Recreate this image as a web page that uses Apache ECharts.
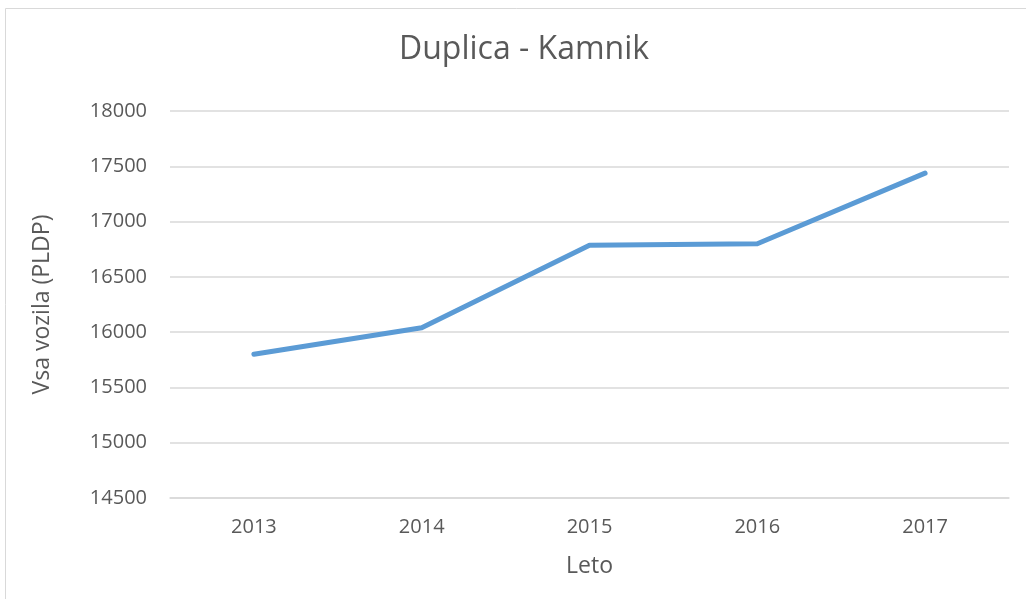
<!DOCTYPE html>
<html>
<head>
<meta charset="utf-8">
<script src="https://cdn.jsdelivr.net/npm/echarts@6/dist/echarts.min.js"></script>
<style>
  html, body { margin: 0; padding: 0; background: #fff; }
  #chart { width: 1026px; height: 599px; }
</style>
</head>
<body>
<div id="chart"></div>
<script>
// podatki grafa
var years = ['2013', '2014', '2015', '2016', '2017'];
var vehicles = [15800, 16040, 16785, 16800, 17438];

var textColor = '#595959';
var gridColor = '#D9D9D9';
var font = '"Open Sans", "Noto Sans", sans-serif';

var chart = echarts.init(document.getElementById('chart'));
chart.setOption({
    animation: false,
    title: {
        text: 'Duplica - Kamnik',
        left: 394,
        top: 29,
        textStyle: { fontFamily: font, fontSize: 32, fontWeight: 'normal', color: textColor }
    },
    graphic: [{
        type: 'rect',
        shape: { x: 5.5, y: 8.5, width: 1030, height: 600 },
        style: { fill: 'none', stroke: gridColor, lineWidth: 1 },
        silent: true
    }],
    grid: { left: 170, right: 17, top: 111, bottom: 101 },
    xAxis: {
        type: 'category',
        data: years,
        boundaryGap: true,
        name: 'Leto',
        nameLocation: 'middle',
        nameGap: 57,
        nameTextStyle: { fontFamily: font, fontSize: 23, color: textColor },
        axisLine: { lineStyle: { color: gridColor, width: 1.5 } },
        axisTick: { show: false },
        axisLabel: { fontFamily: font, fontSize: 20, color: textColor, margin: 19 }
    },
    yAxis: {
        type: 'value',
        min: 14500,
        max: 18000,
        interval: 500,
        name: 'Vsa vozila (PLDP)',
        nameLocation: 'middle',
        nameGap: 116,
        nameTextStyle: { fontFamily: font, fontSize: 23, color: textColor },
        axisLine: { show: false },
        axisTick: { show: false },
        axisLabel: {
            fontFamily: font, fontSize: 20, color: textColor, margin: 23,
            formatter: function (v) { return String(v); }
        },
        splitLine: { lineStyle: { color: gridColor, width: 1.5 } }
    },
    series: [{
        type: 'line',
        data: vehicles,
        symbol: 'none',
        lineStyle: { color: '#5B9BD5', width: 5, cap: 'round', join: 'round' }
    }]
});
</script>
</body>
</html>
